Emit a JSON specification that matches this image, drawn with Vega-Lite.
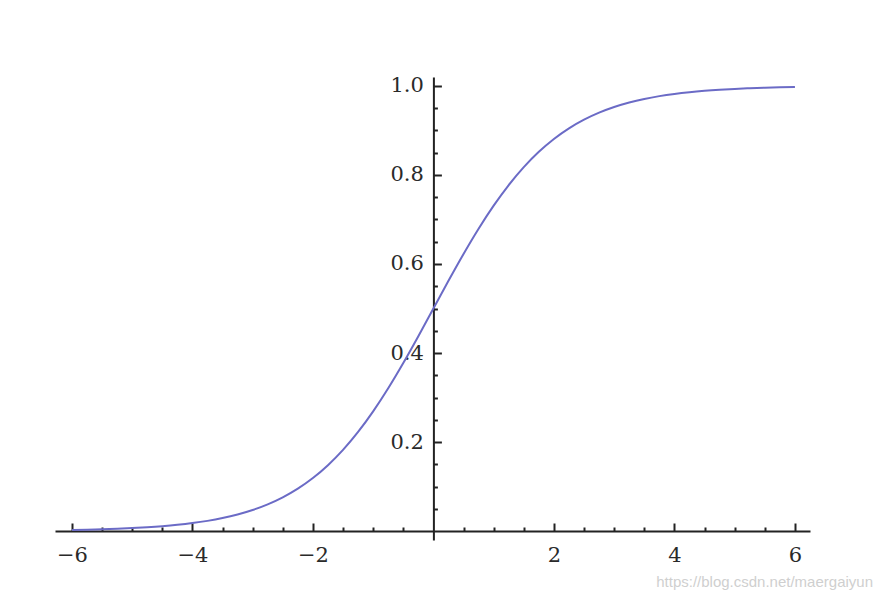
{
  "$schema": "https://vega.github.io/schema/vega-lite/v6.json",
  "width": 755,
  "height": 463,
  "autosize": {"type": "none"},
  "padding": {"left": 55, "top": 77, "right": 73, "bottom": 62},
  "background": "white",
  "config": {
    "view": {"stroke": null},
    "axis": {
      "grid": false,
      "domainColor": "#222222",
      "domainWidth": 2,
      "tickColor": "#222222",
      "tickWidth": 2,
      "labelFont": "DejaVu Serif",
      "labelFontSize": 21,
      "labelColor": "#2a2a2a",
      "title": null
    }
  },
  "title": {
    "text": "https://blog.csdn.net/maergaiyun",
    "orient": "bottom",
    "anchor": "end",
    "font": "Liberation Sans",
    "fontSize": 15,
    "fontWeight": "normal",
    "color": "#cfcfcf",
    "offset": 6,
    "dx": 63
  },
  "data": {
    "values": [
      {"x": -6, "y": 0.00247}, {"x": -5.75, "y": 0.00317}, {"x": -5.5, "y": 0.00407}, {"x": -5.25, "y": 0.00522},
      {"x": -5, "y": 0.00669}, {"x": -4.75, "y": 0.00858}, {"x": -4.5, "y": 0.01099}, {"x": -4.25, "y": 0.01406},
      {"x": -4, "y": 0.01799}, {"x": -3.75, "y": 0.02298}, {"x": -3.5, "y": 0.02931}, {"x": -3.25, "y": 0.03733},
      {"x": -3, "y": 0.04743}, {"x": -2.75, "y": 0.06009}, {"x": -2.5, "y": 0.07586}, {"x": -2.25, "y": 0.09535},
      {"x": -2, "y": 0.1192}, {"x": -1.75, "y": 0.14805}, {"x": -1.5, "y": 0.18243}, {"x": -1.25, "y": 0.2227},
      {"x": -1, "y": 0.26894}, {"x": -0.75, "y": 0.32082}, {"x": -0.5, "y": 0.37754}, {"x": -0.25, "y": 0.43782},
      {"x": 0, "y": 0.5}, {"x": 0.25, "y": 0.56218}, {"x": 0.5, "y": 0.62246}, {"x": 0.75, "y": 0.67918},
      {"x": 1, "y": 0.73106}, {"x": 1.25, "y": 0.7773}, {"x": 1.5, "y": 0.81757}, {"x": 1.75, "y": 0.85195},
      {"x": 2, "y": 0.8808}, {"x": 2.25, "y": 0.90465}, {"x": 2.5, "y": 0.92414}, {"x": 2.75, "y": 0.93991},
      {"x": 3, "y": 0.95257}, {"x": 3.25, "y": 0.96267}, {"x": 3.5, "y": 0.97069}, {"x": 3.75, "y": 0.97702},
      {"x": 4, "y": 0.98201}, {"x": 4.25, "y": 0.98594}, {"x": 4.5, "y": 0.98901}, {"x": 4.75, "y": 0.99142},
      {"x": 5, "y": 0.99331}, {"x": 5.25, "y": 0.99478}, {"x": 5.5, "y": 0.99593}, {"x": 5.75, "y": 0.99683},
      {"x": 6, "y": 0.99753}
    ]
  },
  "mark": {"type": "line", "interpolate": "monotone", "color": "#6b6bc6", "strokeWidth": 2, "clip": false},
  "encoding": {
    "x": {
      "field": "x",
      "type": "quantitative",
      "scale": {"domain": [-6.28, 6.25], "nice": false, "zero": false},
      "axis": {
        "offset": -9,
        "values": [-6, -5.5, -5, -4.5, -4, -3.5, -3, -2.5, -2, -1.5, -1, -0.5, 0.5, 1, 1.5, 2, 2.5, 3, 3.5, 4, 4.5, 5, 5.5, 6],
        "tickSize": {"condition": {"test": "abs(datum.value % 2) < 0.001", "value": -8}, "value": -4},
        "labelExpr": "abs(datum.value % 2) < 0.001 ? format(datum.value, 'd') : ''",
        "labelPadding": 21,
        "labelFlush": false,
        "labelOverlap": false
      }
    },
    "y": {
      "field": "y",
      "type": "quantitative",
      "scale": {"domain": [-0.02, 1.02], "nice": false, "zero": false},
      "axis": {
        "offset": -378.4,
        "values": [0.05, 0.1, 0.15, 0.2, 0.25, 0.3, 0.35, 0.4, 0.45, 0.5, 0.55, 0.6, 0.65, 0.7, 0.75, 0.8, 0.85, 0.9, 0.95, 1.0],
        "tickSize": {"condition": {"test": "abs(datum.value * 5 - round(datum.value * 5)) < 0.001", "value": -8}, "value": -4},
        "labelExpr": "abs(datum.value * 5 - round(datum.value * 5)) < 0.001 ? format(datum.value, '.1f') : ''",
        "labelPadding": 18,
        "labelFlush": false,
        "labelOverlap": false
      }
    }
  }
}
